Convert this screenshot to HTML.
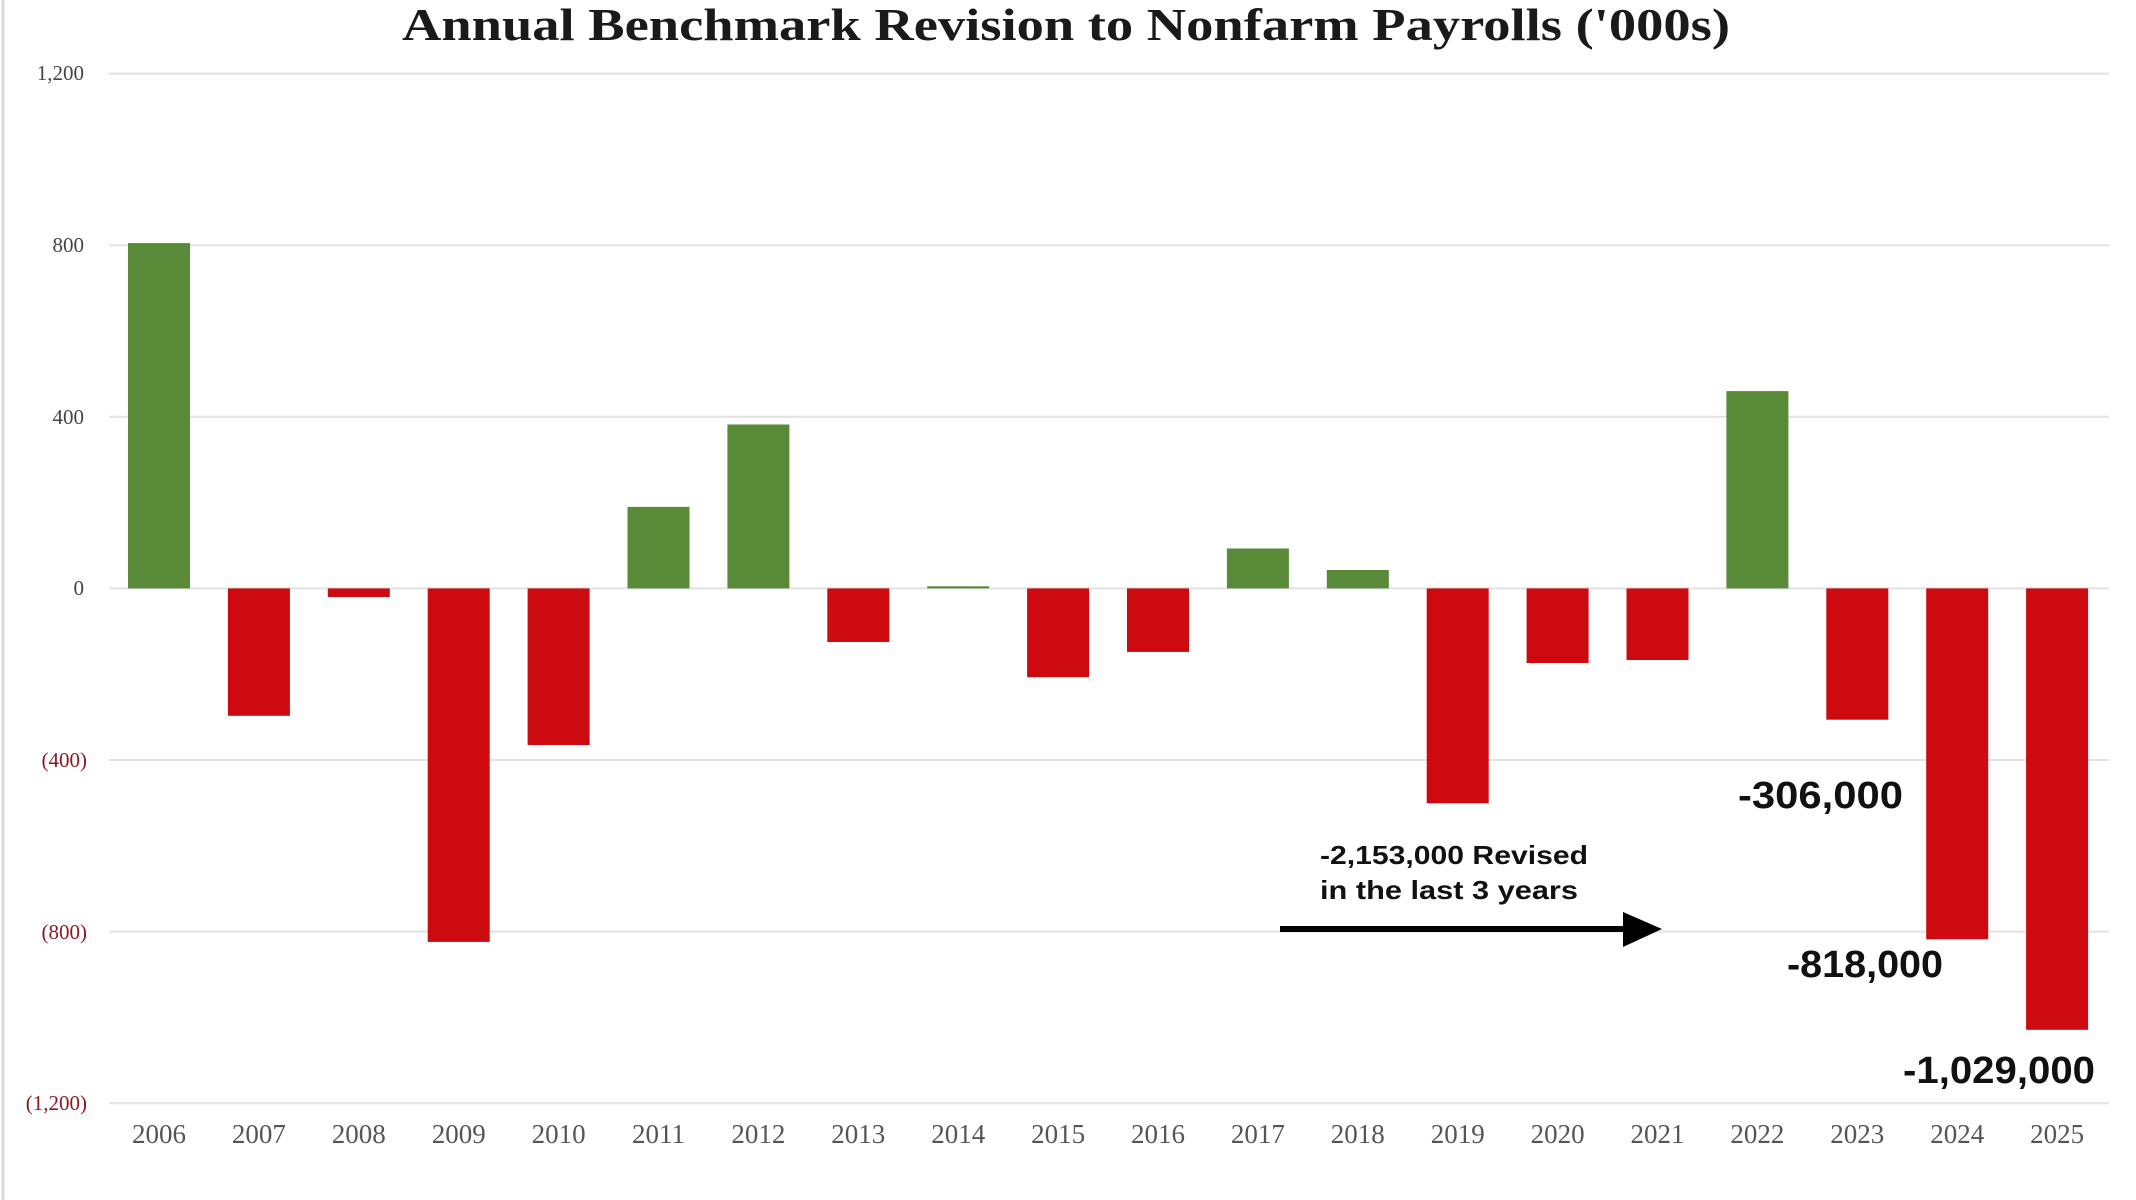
<!DOCTYPE html>
<html><head><meta charset="utf-8"><style>
html,body{margin:0;padding:0;background:#fff;}
svg{display:block;}
</style></head><body>
<svg width="2136" height="1200" viewBox="0 0 2136 1200" xmlns="http://www.w3.org/2000/svg">
<rect width="2136" height="1200" fill="#fff"/>
<line x1="3" y1="0" x2="3" y2="1200" stroke="#d8d8d8" stroke-width="3"/>
<text x="1066" y="40" text-anchor="middle" font-family="Liberation Serif, serif" font-weight="bold" font-size="46" fill="#1a1a1a" textLength="1328" lengthAdjust="spacingAndGlyphs">Annual Benchmark Revision to Nonfarm Payrolls ('000s)</text>
<g stroke="#e2e2e2" stroke-width="2">
<line x1="109" y1="73.6" x2="2109" y2="73.6"/>
<line x1="109" y1="245.2" x2="2109" y2="245.2"/>
<line x1="109" y1="416.8" x2="2109" y2="416.8"/>
<line x1="109" y1="588.4" x2="2109" y2="588.4"/>
<line x1="109" y1="760" x2="2109" y2="760"/>
<line x1="109" y1="931.6" x2="2109" y2="931.6"/>
<line x1="109" y1="1103.2" x2="2109" y2="1103.2"/>
</g>
<g font-family="Liberation Serif, serif" font-size="21" text-anchor="end">
<text x="84" y="80" fill="#444">1,200</text>
<text x="84" y="252" fill="#444">800</text>
<text x="84" y="424" fill="#444">400</text>
<text x="84" y="595" fill="#444">0</text>
<text x="87" y="767" fill="#8a1a22">(400)</text>
<text x="87" y="939" fill="#8a1a22">(800)</text>
<text x="87" y="1110" fill="#8a1a22">(1,200)</text>
</g>
<g fill="#598a38">
<rect x="128" y="243.1" width="62" height="345.3"/>
<rect x="627.5" y="506.9" width="62" height="81.5"/>
<rect x="727.4" y="424.5" width="62" height="163.9"/>
<rect x="927.2" y="586.3" width="62" height="2.1"/>
<rect x="1226.9" y="548.5" width="62" height="39.9"/>
<rect x="1326.8" y="570" width="62" height="18.4"/>
<rect x="1726.4" y="391.1" width="62" height="197.3"/>
</g>
<g fill="#cc0a0f">
<rect x="227.9" y="588.4" width="62" height="127.4"/>
<rect x="327.8" y="588.4" width="62" height="8.6"/>
<rect x="427.7" y="588.4" width="62" height="353.5"/>
<rect x="527.6" y="588.4" width="62" height="156.6"/>
<rect x="827.3" y="588.4" width="62" height="53.6"/>
<rect x="1027.1" y="588.4" width="62" height="88.8"/>
<rect x="1127" y="588.4" width="62" height="63.5"/>
<rect x="1426.7" y="588.4" width="62" height="214.9"/>
<rect x="1526.6" y="588.4" width="62" height="74.6"/>
<rect x="1626.5" y="588.4" width="62" height="71.6"/>
<rect x="1826.3" y="588.4" width="62" height="131.3"/>
<rect x="1926.2" y="588.4" width="62" height="350.9"/>
<rect x="2026.1" y="588.4" width="62" height="441.4"/>
</g>
<g font-family="Liberation Serif, serif" font-size="27" fill="#555" text-anchor="middle">
<text x="159" y="1143">2006</text>
<text x="258.9" y="1143">2007</text>
<text x="358.8" y="1143">2008</text>
<text x="458.7" y="1143">2009</text>
<text x="558.6" y="1143">2010</text>
<text x="658.5" y="1143">2011</text>
<text x="758.4" y="1143">2012</text>
<text x="858.3" y="1143">2013</text>
<text x="958.2" y="1143">2014</text>
<text x="1058.1" y="1143">2015</text>
<text x="1158" y="1143">2016</text>
<text x="1257.9" y="1143">2017</text>
<text x="1357.8" y="1143">2018</text>
<text x="1457.7" y="1143">2019</text>
<text x="1557.6" y="1143">2020</text>
<text x="1657.5" y="1143">2021</text>
<text x="1757.4" y="1143">2022</text>
<text x="1857.3" y="1143">2023</text>
<text x="1957.2" y="1143">2024</text>
<text x="2057.1" y="1143">2025</text>
</g>
<g font-family="Liberation Sans, sans-serif" font-weight="bold" fill="#111">
<text x="1320" y="864" font-size="26" textLength="268" lengthAdjust="spacingAndGlyphs">-2,153,000 Revised</text>
<text x="1320" y="899" font-size="26" textLength="258" lengthAdjust="spacingAndGlyphs">in the last 3 years</text>
<text x="1738" y="808" font-size="38" textLength="165" lengthAdjust="spacingAndGlyphs">-306,000</text>
<text x="1787" y="977" font-size="38" textLength="156" lengthAdjust="spacingAndGlyphs">-818,000</text>
<text x="1903" y="1083" font-size="38" textLength="192" lengthAdjust="spacingAndGlyphs">-1,029,000</text>
</g>
<line x1="1280" y1="929" x2="1630" y2="929" stroke="#000" stroke-width="6"/>
<polygon points="1623,912 1662,929 1623,947" fill="#000"/>
</svg>
</body></html>
